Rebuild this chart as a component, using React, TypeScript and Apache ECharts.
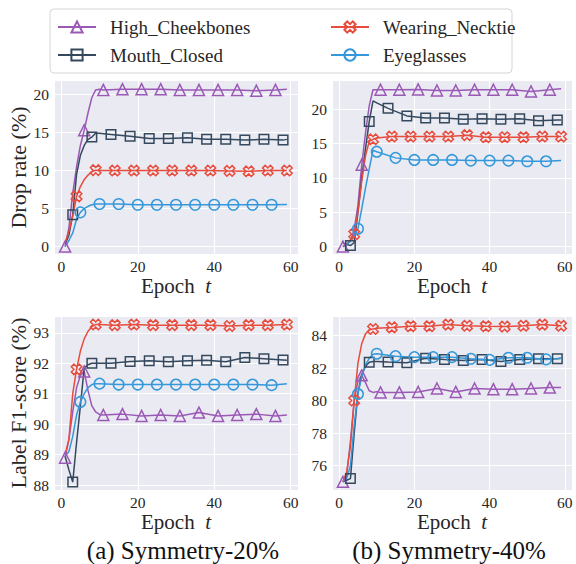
import React, { useEffect, useRef } from "react";
import * as echarts from "echarts";

const FONT = '"Liberation Serif", "Times New Roman", serif';
const TXT = "#262626";

const SERIES_NAMES = ["High_Cheekbones", "Mouth_Closed", "Wearing_Necktie", "Eyeglasses"];
const COLORS = ["#9b59b6", "#34495e", "#e74c3c", "#3498db"];
const MARK_OFFSET = [1, 3, 4, 0];
const X_PATH = "path://M1 4L2 3L3 4L4 3L3 2L4 1L3 0L2 1L1 0L0 1L1 2L0 3Z";
const SYMBOLS = ["triangle", "rect", X_PATH, "circle"];
const SYMBOL_SIZES = [11, 9.5, 10.5, 10.5];

// epochs of each series' points
const X_HC = [1, 2, 3, 4, 5, 6, 7, 8, 9, 10, 11, 16, 21, 26, 31, 36, 41, 46, 51, 56, 59];
const X_MC = [1, 2, 3, 4, 5, 6, 7, 8, 9, 10, 13, 18, 23, 28, 33, 38, 43, 48, 53, 58, 59];
const X_WN = [1, 2, 3, 4, 5, 6, 7, 8, 9, 10, 14, 19, 24, 29, 34, 39, 44, 49, 54, 59];
const X_EG = [1, 2, 3, 4, 5, 6, 7, 8, 9, 10, 15, 20, 25, 30, 35, 40, 45, 50, 55, 59];

// (a) Symmetry-20%, drop rate
const A_DROP_HC = [0, 2.5, 7, 10.5, 13.3, 15.3, 17.6, 19.6, 20.6, 20.7, 20.6, 20.7, 20.7, 20.7, 20.6, 20.6, 20.6, 20.6, 20.5, 20.6, 20.7];
const A_DROP_MC = [0.3, 1.5, 4.2, 9.5, 12, 13.3, 14.1, 14.4, 14.9, 14.9, 14.75, 14.5, 14.2, 14.2, 14.3, 14.1, 14.1, 14.0, 14.1, 14.0, 14.1];
const A_DROP_WN = [0.5, 2, 4, 6.6, 7.9, 8.8, 9.4, 9.85, 10.05, 10.0, 10.0, 10.0, 10.0, 10.0, 10.0, 10.0, 9.95, 9.9, 10.0, 10.0];
const A_DROP_EG = [0, 0.8, 1.8, 3.6, 4.5, 5.0, 5.3, 5.5, 5.6, 5.6, 5.6, 5.5, 5.5, 5.5, 5.5, 5.5, 5.5, 5.5, 5.5, 5.55];

// (b) Symmetry-40%, drop rate
const B_DROP_HC = [0, 0.3, 0.8, 2.5, 6, 11.9, 16.5, 20.5, 22.8, 22.8, 22.8, 22.8, 22.85, 22.7, 22.7, 22.8, 22.8, 22.8, 22.56, 22.8, 22.95];
const B_DROP_MC = [0.5, 0.3, 0.15, 0.6, 5, 10, 14.2, 18.2, 21.2, 20.9, 20.1, 19.0, 18.7, 18.7, 18.5, 18.6, 18.5, 18.6, 18.3, 18.4, 18.4];
const B_DROP_WN = [0, 0.4, 1.0, 1.8, 5, 9.5, 13.2, 15.3, 15.6, 15.8, 16.0, 16.0, 16.0, 16.0, 16.2, 15.9, 15.9, 15.9, 16.0, 16.0];
const B_DROP_EG = [0, 0.3, 0.8, 1.5, 2.6, 5.5, 8.5, 11.3, 14.0, 13.8, 12.9, 12.6, 12.6, 12.6, 12.5, 12.5, 12.5, 12.4, 12.4, 12.5];

// (a) Symmetry-20%, label F1-score
const A_F1_HC = [88.9, 89.5, 90.4, 91.2, 91.6, 91.73, 91.1, 90.6, 90.4, 90.32, 90.3, 90.33, 90.27, 90.3, 90.27, 90.38, 90.27, 90.3, 90.33, 90.27, 90.3];
const A_F1_MC = [88.95, 88.5, 88.1, 89.4, 90.6, 91.85, 91.95, 92.0, 92.0, 92.0, 92.0, 92.06, 92.08, 92.05, 92.08, 92.1, 92.05, 92.19, 92.15, 92.11, 92.1];
const A_F1_WN = [89.0, 89.5, 91.0, 91.8, 92.4, 92.8, 93.05, 93.2, 93.27, 93.27, 93.25, 93.27, 93.25, 93.25, 93.25, 93.25, 93.22, 93.25, 93.25, 93.27];
const A_F1_EG = [88.95, 89.1, 89.6, 90.3, 90.73, 91.0, 91.2, 91.3, 91.33, 91.33, 91.3, 91.3, 91.3, 91.3, 91.3, 91.3, 91.3, 91.3, 91.28, 91.33];

// (b) Symmetry-40%, label F1-score
const B_F1_HC = [75.0, 75.4, 77.5, 80.0, 81.2, 81.55, 81.1, 80.6, 80.5, 80.55, 80.5, 80.5, 80.53, 80.74, 80.53, 80.74, 80.7, 80.7, 80.74, 80.8, 80.8];
const B_F1_MC = [75.0, 75.1, 75.2, 78.0, 80.5, 81.6, 82.1, 82.35, 82.4, 82.4, 82.37, 82.33, 82.6, 82.53, 82.47, 82.53, 82.4, 82.53, 82.57, 82.57, 82.6];
const B_F1_WN = [75.0, 75.6, 77.2, 80.0, 82.3, 83.5, 84.1, 84.35, 84.4, 84.45, 84.5, 84.57, 84.57, 84.67, 84.6, 84.57, 84.55, 84.6, 84.67, 84.6];
const B_F1_EG = [75.0, 75.2, 76.0, 78.5, 80.4, 81.5, 82.2, 82.6, 82.85, 82.88, 82.73, 82.67, 82.67, 82.67, 82.57, 82.5, 82.63, 82.63, 82.53, 82.6];

const X_SETS = [X_HC, X_MC, X_WN, X_EG];
const PANELS = [
  { values: [A_DROP_HC, A_DROP_MC, A_DROP_WN, A_DROP_EG], yMin: -1.04, yMax: 21.84, step: 5 },
  { values: [B_DROP_HC, B_DROP_MC, B_DROP_WN, B_DROP_EG], yMin: -1.15, yMax: 24.15, step: 5 },
  { values: [A_F1_HC, A_F1_MC, A_F1_WN, A_F1_EG], yMin: 87.84, yMax: 93.55, step: 1 },
  { values: [B_F1_HC, B_F1_MC, B_F1_WN, B_F1_EG], yMin: 74.5, yMax: 85.2, step: 2 },
];
const Y_NAMES = ["Drop rate (%)", "", "Label F1-score (%)", ""];
const CAPTIONS = ["(a) Symmetry-20%", "(b) Symmetry-40%"];
const X_MIN = -1.9;
const X_MAX = 61.9;

const GRIDS = [
  { left: 54, top: 80.5, width: 244, height: 174 },
  { left: 332, top: 80.5, width: 240, height: 174 },
  { left: 54, top: 316, width: 244, height: 174 },
  { left: 332, top: 316, width: 240, height: 174 },
];

export default function App() {
  const ref = useRef<HTMLDivElement>(null);
  useEffect(() => {
    if (!ref.current) return;
    const chart = echarts.init(ref.current, null, { renderer: "svg" });

    const xAxes = GRIDS.map((_, i) => ({
      type: "value",
      gridIndex: i,
      min: X_MIN,
      max: X_MAX,
      minInterval: 20,
      maxInterval: 20,
      axisLine: { show: false },
      axisTick: { show: false },
      splitLine: { show: true, lineStyle: { color: "#ffffff", width: 1.1 } },
      axisLabel: {
        showMinLabel: false,
        showMaxLabel: false,
        color: TXT,
        fontFamily: FONT,
        fontSize: 15.5,
        margin: 4,
      },
      name: "{a|Epoch}  {b|t}",
      nameLocation: "middle",
      nameGap: 21,
      nameTextStyle: {
        color: TXT,
        fontFamily: FONT,
        fontSize: 21,
        rich: {
          a: { fontFamily: FONT, fontSize: 21, color: TXT },
          b: { fontFamily: FONT, fontSize: 21, color: TXT, fontStyle: "italic" },
        },
      },
    }));

    const yAxes = PANELS.map((p, i) => ({
      type: "value",
      gridIndex: i,
      min: p.yMin,
      max: p.yMax,
      minInterval: p.step,
      maxInterval: p.step,
      axisLine: { show: false },
      axisTick: { show: false },
      splitLine: { show: true, lineStyle: { color: "#ffffff", width: 1.1 } },
      axisLabel: {
        showMinLabel: false,
        showMaxLabel: false,
        color: TXT,
        fontFamily: FONT,
        fontSize: 15.5,
        margin: 5,
      },
      name: Y_NAMES[i],
      nameLocation: "middle",
      nameRotate: 90,
      nameGap: 23,
      nameTextStyle: { color: TXT, fontFamily: FONT, fontSize: 22 },
    }));

    const series: any[] = [];
    PANELS.forEach((p, pi) => {
      p.values.forEach((vals, si) => {
        const xs = X_SETS[si];
        series.push({
          type: "line",
          name: SERIES_NAMES[si],
          xAxisIndex: pi,
          yAxisIndex: pi,
          symbol: SYMBOLS[si],
          symbolSize: SYMBOL_SIZES[si],
          lineStyle: { color: COLORS[si], width: 1.5 },
          itemStyle: { color: "rgba(0,0,0,0)", borderColor: COLORS[si], borderWidth: 1.5 },
          emphasis: { disabled: true },
          clip: false,
          data: xs.map((e, k) => {
            const item: any = { value: [e, vals[k]] };
            if (e % 5 !== MARK_OFFSET[si]) item.symbol = "none";
            return item;
          }),
        });
      });
    });

    const legendCommon = {
      orient: "vertical",
      top: 17,
      padding: 0,
      itemWidth: 38,
      itemHeight: 14,
      itemGap: 8,
      textStyle: {
        color: TXT,
        fontFamily: FONT,
        fontSize: 19,
        lineHeight: 20,
        padding: [0, 0, 0, 9],
      },
    };

    chart.setOption({
      animation: false,
      backgroundColor: "#ffffff",
      grid: GRIDS.map((g) => ({
        ...g,
        show: true,
        backgroundColor: "#EAEAF2",
        borderWidth: 0,
        containLabel: false,
      })),
      xAxis: xAxes,
      yAxis: yAxes,
      legend: [
        { ...legendCommon, left: 57, data: [SERIES_NAMES[0], SERIES_NAMES[1]] },
        { ...legendCommon, left: 330, data: [SERIES_NAMES[2], SERIES_NAMES[3]] },
      ],
      graphic: [
        {
          type: "rect",
          z: -1,
          shape: { x: 50, y: 9, width: 462, height: 64, r: 4 },
          style: { fill: "#ffffff", stroke: "#d6d6d6", lineWidth: 1 },
          silent: true,
        },
        {
          type: "text",
          x: 183,
          y: 550,
          style: { text: CAPTIONS[0], font: `25px ${FONT}`, fill: "#111", align: "center", verticalAlign: "middle" },
        },
        {
          type: "text",
          x: 449,
          y: 550,
          style: { text: CAPTIONS[1], font: `25px ${FONT}`, fill: "#111", align: "center", verticalAlign: "middle" },
        },
      ],
      series,
    });

    return () => chart.dispose();
  }, []);

  return (
    <div
      ref={ref}
      style={{ position: "fixed", left: 0, top: 0, width: 576, height: 564 }}
    />
  );
}
